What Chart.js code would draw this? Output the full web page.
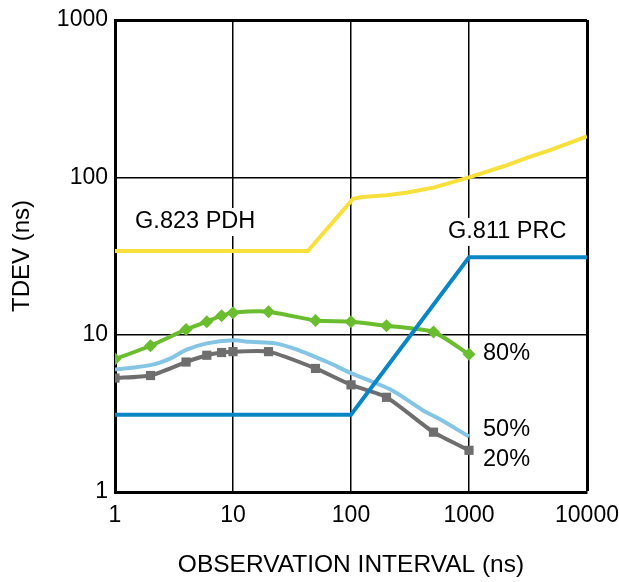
<!DOCTYPE html>
<html>
<head>
<meta charset="utf-8">
<script src="https://cdn.jsdelivr.net/npm/chart.js@4.4.1/dist/chart.umd.min.js"></script>
<style>
  html, body { margin: 0; padding: 0; background: #fff; }
  #chart { display: block; }
</style>
</head>
<body>
<canvas id="chart" width="619" height="582"></canvas>
<script>
  // tick values (log axes, decades only)
  const xTicks = [1, 10, 100, 1000, 10000];
  const yTicks = [1, 10, 100, 1000];

  // G.823 PDH mask
  const g823Interval = [1, 43, 104, 125, 200, 300, 500, 1000, 2000, 3000, 5000, 10000];
  const g823Tdev = [34, 34, 73, 75, 77, 80, 86, 100, 118, 132, 150, 182];

  // G.811 PRC mask
  const g811Interval = [1, 100, 1000, 10000];
  const g811Tdev = [3.1, 3.1, 31, 31];

  // measured percentiles (marker curves)
  const markerInterval = [1, 2, 4, 6, 8, 10, 20, 50, 100, 200, 500, 1000];
  const p80Tdev = [7.0, 8.5, 10.8, 12.1, 13.2, 13.8, 14.0, 12.3, 12.1, 11.4, 10.4, 7.5];
  const p20Tdev = [5.3, 5.5, 6.7, 7.4, 7.7, 7.8, 7.8, 6.1, 4.8, 4.0, 2.4, 1.84];

  // 50% curve (no markers)
  const p50Interval = [1, 2, 3, 4, 6, 10, 14, 23, 37, 63, 100, 153, 226, 408, 567, 1000];
  const p50Tdev = [6.0, 6.4, 7.1, 8.0, 8.8, 9.2, 9.0, 8.8, 7.9, 6.7, 5.7, 5.0, 4.4, 3.3, 2.9, 2.25];

  function pairs(xs, ys) {
    return xs.map((x, i) => ({ x, y: ys[i] }));
  }

  const FONT = '"Liberation Sans", Arial, sans-serif';

  const curveLabels = [
    { text: 'G.823 PDH', x: 1.48, y: 52 },
    { text: 'G.811 PRC', x: 664, y: 45 },
    { text: '80%', x: 1315, y: 7.6 },
    { text: '50%', x: 1315, y: 2.48 },
    { text: '20%', x: 1315, y: 1.6 }
  ];

  const labelPlugin = {
    id: 'curveLabels',
    beforeDatasetsDraw(chart) {
      const { ctx, scales: { x, y } } = chart;
      ctx.save();
      ctx.font = '23.5px ' + FONT;
      ctx.textBaseline = 'middle';
      ctx.textAlign = 'left';
      curveLabels.forEach((l) => {
        const px = x.getPixelForValue(l.x);
        const py = y.getPixelForValue(l.y);
        const w = ctx.measureText(l.text).width;
        ctx.fillStyle = '#fff';
        ctx.fillRect(px - 4, py - 14, w + 8, 28);
        ctx.fillStyle = '#000';
        ctx.fillText(l.text, px, py);
      });
      ctx.restore();
    }
  };

  const lineBase = { borderWidth: 4, pointRadius: 0, fill: false };

  new Chart(document.getElementById('chart'), {
    type: 'line',
    data: {
      datasets: [
        { ...lineBase, label: 'G.823 PDH', data: pairs(g823Interval, g823Tdev), borderColor: '#F7E03C', tension: 0 },
        { ...lineBase, label: 'G.811 PRC', data: pairs(g811Interval, g811Tdev), borderColor: '#0A86C5', tension: 0 },
        { ...lineBase, label: '50%', data: pairs(p50Interval, p50Tdev), borderColor: '#84C4E4', tension: 0.35 },
        {
          ...lineBase, label: '20%', data: pairs(markerInterval, p20Tdev), borderColor: '#6E6E6E', tension: 0.2,
          pointRadius: 6.5, pointStyle: 'rect', pointBackgroundColor: '#6E6E6E', pointBorderWidth: 0
        },
        {
          ...lineBase, label: '80%', data: pairs(markerInterval, p80Tdev), borderColor: '#6ABD2E', tension: 0.2,
          pointRadius: 6.5, pointStyle: 'rectRot', pointBackgroundColor: '#6ABD2E', pointBorderWidth: 0
        }
      ]
    },
    options: {
      responsive: false,
      animation: false,
      devicePixelRatio: 1,
      layout: { padding: { top: 20, right: 32, left: 0, bottom: 0 } },
      plugins: { legend: { display: false }, tooltip: { enabled: false } },
      scales: {
        x: {
          type: 'logarithmic',
          min: 1,
          max: 10000,
          afterBuildTicks: (s) => { s.ticks = xTicks.map((v) => ({ value: v })); },
          afterFit: (s) => {
            s.height = 90;
            s.paddingLeft = 0;
            s.paddingRight = 0;
          },
          grid: {
            color: '#000',
            lineWidth: (c) => (c.tick && c.tick.value === 10000 ? 3 : 1.5),
            drawTicks: false
          },
          border: { color: '#000', width: 3 },
          ticks: {
            color: '#000',
            font: { family: FONT, size: 23 },
            padding: 10,
            maxRotation: 0,
            autoSkip: false,
            callback: (v) => String(v)
          },
          title: {
            display: true,
            text: 'OBSERVATION INTERVAL (ns)',
            color: '#000',
            font: { family: FONT, size: 24.5 },
            padding: { top: 0, bottom: 2 }
          }
        },
        y: {
          type: 'logarithmic',
          min: 1,
          max: 1000,
          afterBuildTicks: (s) => { s.ticks = yTicks.map((v) => ({ value: v })); },
          afterFit: (s) => {
            s.width = 115;
            s.paddingTop = 0;
            s.paddingBottom = 0;
          },
          grid: {
            color: '#000',
            lineWidth: (c) => (c.tick && c.tick.value === 1000 ? 3 : 1.5),
            drawTicks: false
          },
          border: { color: '#000', width: 3 },
          ticks: {
            color: '#000',
            font: { family: FONT, size: 23 },
            padding: 7,
            autoSkip: false,
            callback: (v) => String(v)
          },
          title: {
            display: true,
            text: 'TDEV (ns)',
            color: '#000',
            font: { family: FONT, size: 24 },
            padding: { top: 8, bottom: 0 }
          }
        }
      }
    },
    plugins: [labelPlugin]
  });
</script>
</body>
</html>
